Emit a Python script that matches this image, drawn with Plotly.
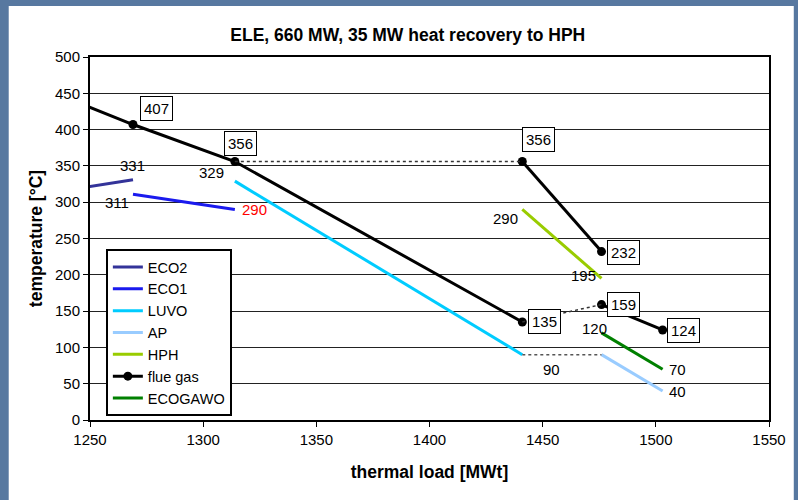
import plotly.graph_objects as go

# Temperature profiles along the thermal load axis [MWt, °C]
eco2_x = [1245, 1269]
eco2_y = [319, 331]

eco1_x = [1269, 1314]
eco1_y = [311, 290]

luvo_x = [1314, 1441]
luvo_y = [329, 90]

ap_x = [1476, 1503]
ap_y = [90, 40]

hph_x = [1441, 1476]
hph_y = [290, 195]

ecogawo_x = [1476, 1503]
ecogawo_y = [120, 70]

# flue gas path, split into solid segments (None breaks the line)
flue_x = [1245, 1269, 1314, 1441, None, 1441, 1476, None, 1476, 1503]
flue_y = [437, 407, 356, 135, None, 356, 232, None, 159, 124]

# dotted connectors between sections
link_356_x = [1314, 1441]
link_356_y = [356, 356]
link_135_x = [1441, 1476]
link_135_y = [135, 159]
link_90_x = [1441, 1476]
link_90_y = [90, 90]

FONT = "Liberation Sans, Arial, sans-serif"

fig = go.Figure()

def seg(name, xs, ys, color, width=3, legend=True, dash=None, markers=False):
    fig.add_trace(go.Scatter(
        x=xs, y=ys, name=name, showlegend=legend,
        mode="lines+markers" if markers else "lines",
        line=dict(color=color, width=width, dash=dash),
        marker=dict(size=9, color=color),
        cliponaxis=True, hoverinfo="skip",
    ))

seg("ECO2", eco2_x, eco2_y, "#333399")
seg("ECO1", eco1_x, eco1_y, "#1a1aee")
seg("LUVO", luvo_x, luvo_y, "#00ccff")
seg("AP", ap_x, ap_y, "#99ccff")
seg("HPH", hph_x, hph_y, "#99cc00")
seg("flue gas", flue_x, flue_y, "#000000", markers=True)
seg("ECOGAWO", ecogawo_x, ecogawo_y, "#008000")
seg("", link_356_x, link_356_y, "#333333", width=1.5, legend=False, dash="dot")
seg("", link_135_x, link_135_y, "#333333", width=1.5, legend=False, dash="dot")
seg("", link_90_x, link_90_y, "#555555", width=1.5, legend=False, dash="dot")

# value labels: (x, y, value, boxed, color)
labels = [
    (1279.3, 428.4, flue_y[1], True, "black"),
    (1316.4, 380.2, flue_y[2], True, "black"),
    (1268.7, 350.1, eco2_y[1], False, "black"),
    (1303.7, 341.2, luvo_y[0], False, "black"),
    (1262.1, 299.9, eco1_y[0], False, "black"),
    (1322.7, 289.3, eco1_y[1], False, "red"),
    (1448.3, 386.6, flue_y[5], True, "black"),
    (1433.5, 277.8, hph_y[0], False, "black"),
    (1485.6, 231.0, flue_y[6], True, "black"),
    (1468.0, 198.8, hph_y[1], False, "black"),
    (1485.9, 159.4, flue_y[8], True, "black"),
    (1451.0, 135.4, flue_y[3], True, "black"),
    (1473.0, 126.3, ecogawo_y[0], False, "black"),
    (1512.2, 123.6, flue_y[9], True, "black"),
    (1453.8, 69.8, luvo_y[1], False, "black"),
    (1509.6, 69.8, ecogawo_y[1], False, "black"),
    (1509.6, 39.0, ap_y[1], False, "black"),
]
for lx, ly, val, boxed, col in labels:
    fig.add_annotation(
        x=lx, y=ly, xref="x", yref="y", text=str(val), showarrow=False,
        font=dict(family=FONT, size=15, color=col),
        bgcolor="white" if boxed else None,
        bordercolor="black" if boxed else None,
        borderwidth=1 if boxed else 0, borderpad=3,
    )

# white panel over the blue backdrop
fig.add_shape(type="rect", xref="paper", yref="paper",
              x0=(8 - 90) / 685, x1=(800 - 90) / 685,
              y0=(420 - 502) / 363, y1=(420 - 6) / 363,
              fillcolor="white", line=dict(width=0), layer="below")

axis_common = dict(
    showline=True, linecolor="black", linewidth=2, mirror=True,
    ticks="outside", ticklen=5, tickcolor="black", tickwidth=1,
    tickfont=dict(family=FONT, size=15, color="black"),
    zeroline=False,
)

fig.update_layout(
    width=798, height=500,
    margin=dict(l=90, r=23, t=57, b=80),
    paper_bgcolor="#5778a0",
    plot_bgcolor="white",
    title=dict(text="<b>ELE, 660 MW, 35 MW heat recovery to HPH</b>",
               x=0.511, xref="container", xanchor="center",
               y=1 - 35 / 500, yref="container", yanchor="middle",
               font=dict(family=FONT, size=17.5, color="black")),
    xaxis=dict(range=[1250, 1550], tickvals=[1250, 1300, 1350, 1400, 1450, 1500, 1550],
               showgrid=False,
               title=dict(text="<b>thermal load [MWt]</b>", standoff=19,
                          font=dict(family=FONT, size=17.5, color="black")),
               **axis_common),
    yaxis=dict(range=[0, 500], tickvals=list(range(0, 501, 50)),
               showgrid=True, gridcolor="#222222", gridwidth=1,
               title=dict(text="<b>temperature [°C]</b>", standoff=8,
                          font=dict(family=FONT, size=17.5, color="black")),
               **axis_common),
    legend=dict(x=16 / 685, y=(420 - 249) / 363, xanchor="left", yanchor="top",
                bgcolor="white", bordercolor="black", borderwidth=2,
                font=dict(family=FONT, size=14.5, color="black"),
                tracegroupgap=0, itemwidth=30),
    showlegend=True,
)

fig.write_html("out.html")
